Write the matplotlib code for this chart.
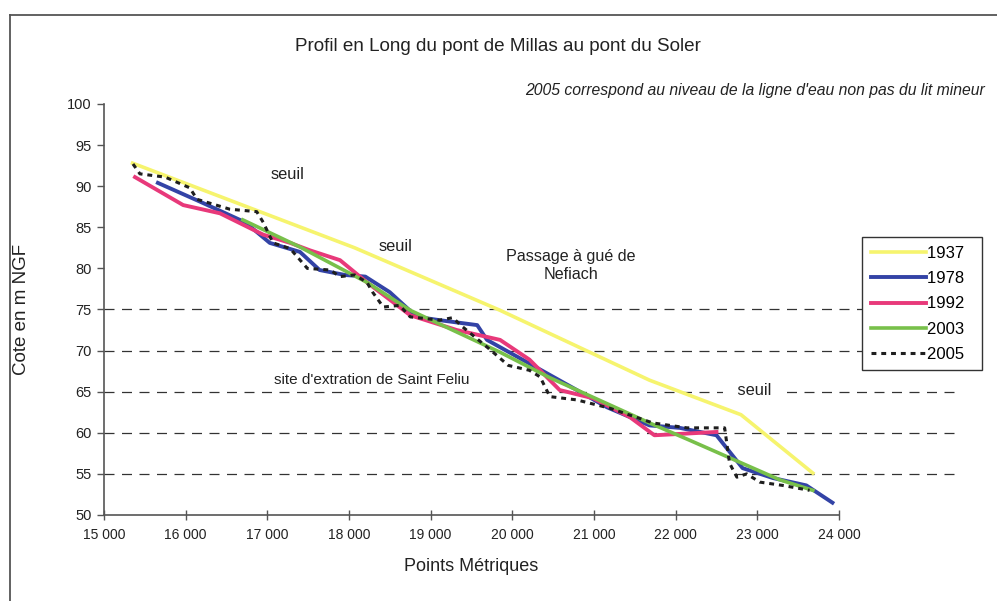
import matplotlib
matplotlib.use("Agg")
import matplotlib.pyplot as plt
from matplotlib.lines import Line2D

plt.rcParams['font.family'] = ['Liberation Sans', 'DejaVu Sans']

# ─── Data ─────────────────────────────────────────────────────────────────
x_ticks = [15000, 16000, 17000, 18000, 19000, 20000, 21000, 22000, 23000, 24000]
y_ticks = [50, 55, 60, 65, 70, 75, 80, 85, 90, 95, 100]
grid_levels = [55, 60, 65, 70, 75]

pm_1937 = [15350, 18070, 19850, 21680, 22800, 23680]
cote_1937 = [92.8, 82.5, 74.9, 66.4, 62.2, 55.1]

pm_1978 = [15660, 16180, 16730, 17030, 17400, 17640, 17950, 18200, 18500, 18830,
           19110, 19570, 19690, 20250, 20790, 21160, 21680, 22050, 22500, 22820,
           23190, 23600, 23920]
cote_1978 = [90.4, 88.1, 85.6, 83.1, 82.0, 79.8, 79.2, 79.0, 77.1, 74.1,
             73.7, 73.1, 71.3, 68.2, 65.2, 63.1, 60.9, 60.6, 59.7, 55.7,
             54.5, 53.6, 51.5]

pm_1992 = [15380, 15970, 16420, 16950, 17280, 17520, 17890, 18220, 18750, 19320,
           19850, 20210, 20580, 20990, 21440, 21740, 22500]
cote_1992 = [91.1, 87.7, 86.7, 84.1, 83.1, 82.2, 81.0, 78.3, 74.3, 72.5,
             71.3, 68.9, 65.2, 64.2, 61.9, 59.7, 60.1]

pm_2003 = [16700, 17400, 18220, 18750, 19850, 20460, 21680, 22170, 23270, 23680]
cote_2003 = [85.9, 82.6, 78.3, 74.9, 69.8, 66.7, 61.2, 59.1, 54.3, 53.0]

pm_2005 = [15355, 15440, 15750, 16050, 16140, 16540, 16870, 16950, 17070, 17280,
           17490, 17770, 17890, 18070, 18220, 18290, 18420, 18620, 18750, 19110,
           19270, 19390, 19730, 19950, 20210, 20340, 20460, 20790, 21190, 21720,
           22140, 22600, 22660, 22750, 22870, 23030, 23310, 23640]
cote_2005 = [92.7, 91.5, 91.1, 89.8, 88.4, 87.2, 86.9, 85.6, 83.1, 82.4,
             80.0, 79.8, 79.0, 79.2, 78.3, 77.1, 75.3, 75.5, 74.1, 73.7,
             74.0, 72.9, 70.1, 68.2, 67.6, 66.8, 64.4, 64.0, 63.0, 61.2,
             60.6, 60.6, 56.3, 54.6, 55.0, 54.0, 53.6, 53.0]

# ─── Figure ───────────────────────────────────────────────────────────────
fig = plt.figure(figsize=(9.97, 6.01), dpi=100)
fig.patch.set_facecolor("white")
ax = fig.add_axes([0.1043, 0.1431, 0.7372, 0.6839])

# scanned page frame (top and left edge)
fig.add_artist(Line2D([0.010, 1.0], [0.975, 0.975], color="#555555", lw=1.3))
fig.add_artist(Line2D([0.010, 0.010], [0.0, 0.975], color="#555555", lw=1.3))

for lvl in grid_levels:
    ax.axhline(lvl, xmin=0, xmax=1.165, color="#333333", lw=0.9,
               linestyle=(0, (8, 6)), clip_on=False, zorder=1)

ax.plot(pm_1937, cote_1937, color="#F6F46E", lw=2.6, label="1937  ", zorder=3)
ax.plot(pm_1978, cote_1978, color="#3343A6", lw=2.8, label="1978  ", zorder=3)
ax.plot(pm_1992, cote_1992, color="#E8397A", lw=2.8, label="1992  ", zorder=3)
ax.plot(pm_2003, cote_2003, color="#78C04A", lw=2.6, label="2003  ", zorder=3)
ax.plot(pm_2005, cote_2005, color="#1e1e1e", lw=2.2, linestyle=(0, (1.6, 1.6)),
        label="2005  ", zorder=4)

# annotations
box = dict(facecolor="white", edgecolor="none", pad=1)
ax.text(17250, 91.4, "seuil", fontsize=11.8, ha="center", va="center", color="#222222")
ax.text(18570, 82.7, "seuil", fontsize=11.8, ha="center", va="center", color="#222222",
        bbox=box, zorder=5)
ax.text(20720, 80.3, "Passage à gué de\nNefiach", fontsize=11.6, ha="center",
        va="center", multialignment="center", color="#222222", linespacing=1.25)
ax.text(18280, 66.4, "    site d'extration de Saint Feliu    ", fontsize=11,
        ha="center", va="center", color="#222222", bbox=box, zorder=2.5)
ax.text(22970, 65.1, "   seuil   ", fontsize=11.8, ha="center", va="center",
        color="#222222", bbox=box, zorder=2.5)

# axes styling
ax.set_xlim(15000, 24000)
ax.set_ylim(50, 100)
ax.set_xticks(x_ticks)
ax.set_xticklabels([f"{v:,}".replace(",", " ") for v in x_ticks])
ax.set_yticks(y_ticks)
for side in ("top", "right"):
    ax.spines[side].set_visible(False)
for side in ("left", "bottom"):
    ax.spines[side].set_color("#555555")
    ax.spines[side].set_linewidth(1.2)
ax.tick_params(axis="x", direction="inout", length=7, width=1, colors="#555555",
               labelcolor="#222222", labelsize=10, pad=6)
ax.tick_params(axis="y", direction="out", length=5, width=1, colors="#555555",
               labelcolor="#222222", labelsize=10.5, pad=4)

ax.set_xlabel("Points Métriques", fontsize=13, color="#222222")
ax.xaxis.set_label_coords(0.5, -0.105)
ax.set_ylabel("Cote en m NGF", fontsize=13.5, color="#222222")
ax.yaxis.set_label_coords(-0.100, 0.5)

fig.text(0.499, 0.923, "Profil en Long du pont de Millas au pont du Soler",
         fontsize=13.6, ha="center", va="center", color="#222222")
fig.text(0.988, 0.849, "2005 correspond au niveau de la ligne d'eau non pas du lit mineur",
         fontsize=11.3, style="italic", ha="right", va="center", color="#222222")

leg = fig.legend(loc="upper left", bbox_to_anchor=(0.865, 0.605), fontsize=12,
                 frameon=True, fancybox=False, handlelength=3.3, handletextpad=0.1,
                 labelspacing=0.62, borderpad=0.5, borderaxespad=0)
leg.get_frame().set_edgecolor("#333333")
leg.get_frame().set_linewidth(1.0)
leg.get_frame().set_alpha(1)

fig.savefig("out.png", dpi=100, facecolor="white")
